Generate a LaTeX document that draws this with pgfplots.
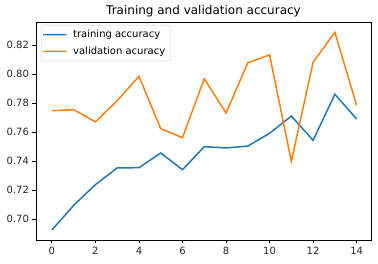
\documentclass[border=0pt]{standalone}
\usepackage{fontspec}
\setmainfont{DejaVu Sans}
\usepackage{pgfplots}
\pgfplotsset{compat=1.18}
\definecolor{tabblue}{HTML}{1F77B4}
\definecolor{taborange}{HTML}{FF7F0E}
\begin{document}
\begin{tikzpicture}
\begin{axis}[
  scale only axis, width=335pt, height=218pt,
  xmin=-0.73, xmax=14.66, ymin=0.6855, ymax=0.8359,
  xtick={0,2,4,6,8,10,12,14},
  ytick={0.70,0.72,0.74,0.76,0.78,0.80,0.82},
  yticklabel style={/pgf/number format/.cd, fixed, fixed zerofill, precision=2},
  /pgf/number format/assume math mode=true,
  tick align=outside, tick pos=left, major tick length=3.5pt,
  tick style={line width=0.8pt, black},
  axis line style={line width=0.8pt},
  ticklabel style={font=\fontsize{10}{12}\selectfont, text=black!85},
  title={Training and validation accuracy},
  title style={font=\fontsize{12}{14}\selectfont, anchor=base, at={(0.5,1)}, yshift=1pt, inner sep=0pt},
  legend style={at={(0,1)}, anchor=north west, xshift=5pt, yshift=-3pt,
    draw=black!20, rounded corners=2pt, fill=white,
    font=\fontsize{10}{12}\selectfont, inner xsep=2pt, inner ysep=3pt,
    nodes={inner xsep=3pt, inner ysep=2pt}, column sep=3.5pt, row sep=3.5pt},
  legend cell align=left,
  legend image code/.code={\path[#1, draw=none, fill] (0pt,-0.75pt) rectangle (23.5pt,0.75pt);},
]
\addplot[tabblue, line width=1.5pt] coordinates {
(0,0.6924) (1,0.7094) (2,0.7237) (3,0.7352) (4,0.7354) (5,0.7455) (6,0.7340)
(7,0.7499) (8,0.7490) (9,0.7503) (10,0.7591) (11,0.7710) (12,0.7543) (13,0.7860) (14,0.7690)};
\addlegendentry{training accuracy}
\addplot[taborange, line width=1.5pt] coordinates {
(0,0.7747) (1,0.7754) (2,0.7670) (3,0.7816) (4,0.7984) (5,0.7623) (6,0.7561)
(7,0.7968) (8,0.7731) (9,0.8077) (10,0.8132) (11,0.7398) (12,0.8081) (13,0.8288) (14,0.7784)};
\addlegendentry{validation acuracy}
\end{axis}
\pgfresetboundingbox
\path ([shift={(-36pt,-24pt)}]current axis.south west) rectangle ([shift={(7pt,22pt)}]current axis.north east);
\end{tikzpicture}
\end{document}
